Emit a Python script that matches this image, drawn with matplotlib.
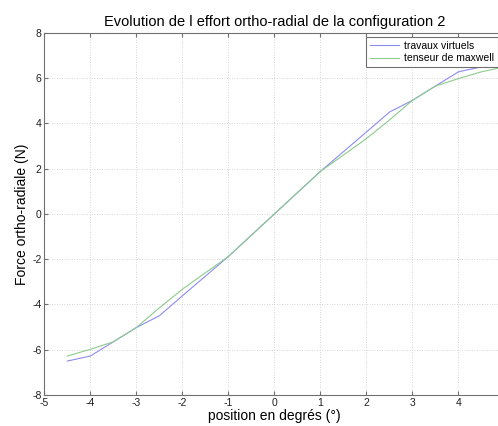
import matplotlib
matplotlib.use("Agg")
import matplotlib.pyplot as plt

# position (deg) and ortho-radial force (N)
position = [-4.5, -4, -3.5, -3, -2.5, -2, -1.5, -1, -0.5, 0,
            0.5, 1, 1.5, 2, 2.5, 3, 3.5, 4, 4.5]
travaux_virtuels = [-6.5, -6.28, -5.65, -5.02, -4.5, -3.62, -2.75, -1.88, -0.94, 0,
                    0.94, 1.88, 2.75, 3.62, 4.5, 5.02, 5.65, 6.28, 6.5]
position_mx = [-4.5, -4, -3.5, -3, -2.5, -2, -1.5, -1, -0.5, 0,
               0.5, 1, 1.5, 2, 2.5, 3, 3.5, 4, 4.5, 5]
tenseur_maxwell = [-6.28, -5.98, -5.65, -5.02, -4.15, -3.33, -2.6, -1.88, -0.94, 0,
                   0.94, 1.88, 2.6, 3.33, 4.15, 5.02, 5.65, 5.98, 6.28, 6.5]

plt.rcParams["font.family"] = ["Liberation Sans", "DejaVu Sans"]
plt.rcParams["axes.unicode_minus"] = False

fig = plt.figure(figsize=(4.98, 4.26), dpi=100)
ax = fig.add_axes([0.089, 0.0728, 0.924, 0.85])

ax.plot(position, travaux_virtuels, color="#8c8cf0", linewidth=0.8, label="travaux virtuels")
ax.plot(position_mx, tenseur_maxwell, color="#8ccc8c", linewidth=0.8, label="tenseur de maxwell")

ax.set_xlim(-5, 5)
ax.set_ylim(-8, 8)
ax.set_xticks(range(-5, 5))
ax.set_yticks(range(-8, 9, 2))
ax.grid(True, linestyle=(0, (1, 2)), color="#c8c8c8", linewidth=0.6)
ax.tick_params(direction="in", top=True, right=True, labelsize=7.5, length=3,
               color="#707070", labelcolor="#202020", pad=2)
for s in ax.spines.values():
    s.set_color("#707070")
    s.set_linewidth(0.8)

ax.set_title("Evolution de l effort ortho-radial de la configuration 2", fontsize=10.5, pad=5)
ax.set_xlabel("position en degrés (°)", fontsize=10, labelpad=1)
ax.set_ylabel("Force ortho-radiale (N)", fontsize=10, labelpad=2)

leg = ax.legend(loc="upper left", bbox_to_anchor=(0.735, 0.913), bbox_transform=fig.transFigure,
                fontsize=7.5, fancybox=False, framealpha=1, edgecolor="#707070",
                handlelength=2.8, handletextpad=0.5, borderpad=0.35, labelspacing=0.25,
                borderaxespad=0)
leg.get_frame().set_linewidth(0.8)

fig.savefig("out.png", dpi=100)
